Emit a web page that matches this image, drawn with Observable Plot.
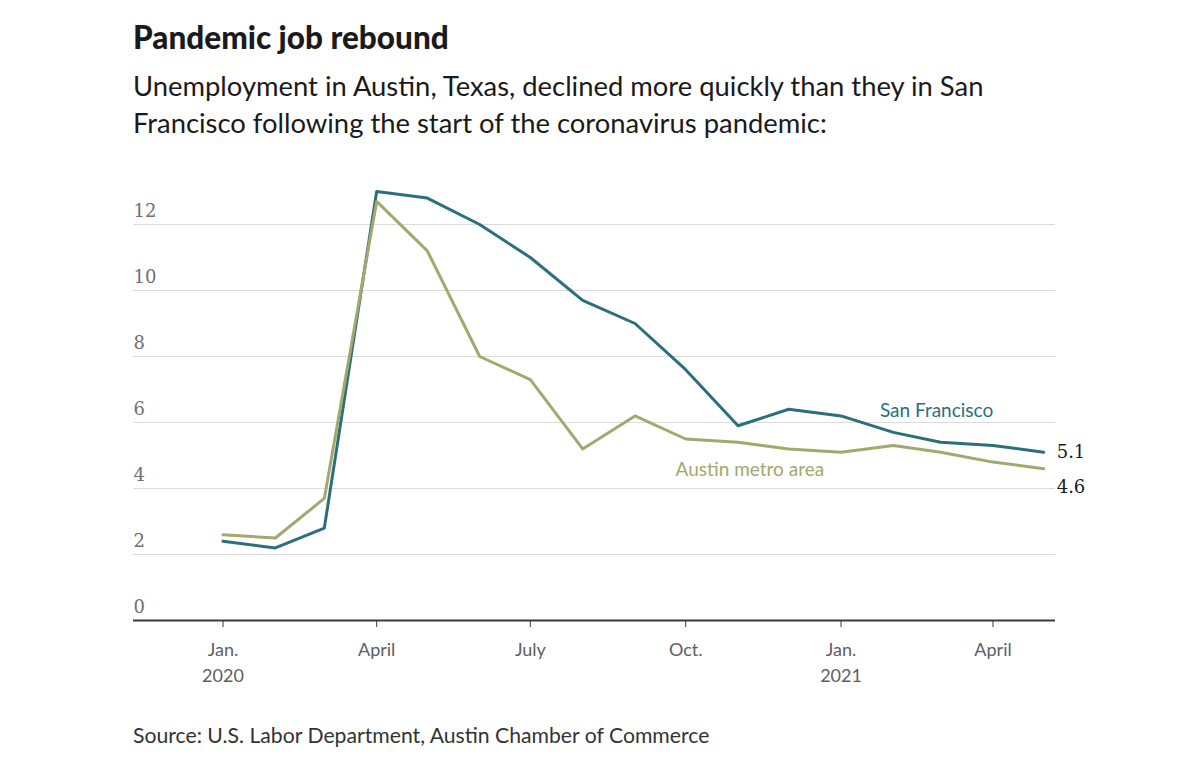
<!DOCTYPE html>
<html>
<head>
<meta charset="utf-8">
<script src="https://cdn.jsdelivr.net/npm/d3@7"></script>
<script src="https://cdn.jsdelivr.net/npm/@observablehq/plot@0.6"></script>
<style>
  body { margin: 0; background: #fff; width: 1200px; height: 773px; overflow: hidden; font-family: "Lato", "Noto Sans", sans-serif; }
  #title { position: absolute; left: 133px; top: 18px; font-size: 31.5px; font-weight: 900; color: #1a1a1a; font-family: "Lato", sans-serif; }
  #subtitle { position: absolute; left: 133px; top: 67px; font-size: 27.4px; line-height: 37px; color: #1a1a1a; font-family: "Lato", sans-serif; }
  #chart { position: absolute; left: 0; top: 160px; }
  #source { position: absolute; left: 133px; top: 722px; font-size: 21.2px; color: #333; font-family: "Lato", sans-serif; }
</style>
</head>
<body>
<div id="title">Pandemic job rebound</div>
<div id="subtitle">Unemployment in Austin, Texas, declined more quickly than they in San<br>Francisco following the start of the coronavirus pandemic:</div>
<div id="chart"></div>
<div id="source">Source: U.S. Labor Department, Austin Chamber of Commerce</div>
<script>
const months = ["2020-01","2020-02","2020-03","2020-04","2020-05","2020-06","2020-07","2020-08","2020-09","2020-10","2020-11","2020-12","2021-01","2021-02","2021-03","2021-04","2021-05"];
const sanFrancisco = [2.4,2.2,2.8,13.0,12.8,12.0,11.0,9.7,9.0,7.6,5.9,6.4,6.2,5.7,5.4,5.3,5.1];
const austin = [2.6,2.5,3.7,12.7,11.2,8.0,7.3,5.2,6.2,5.5,5.4,5.2,5.1,5.3,5.1,4.8,4.6];
const yTicks = [0,2,4,6,8,10,12];
const xTicks = ["2020-01","2020-04","2020-07","2020-10","2021-01","2021-04"];
const xTickLabels = ["Jan.\n2020","April","July","Oct.","Jan.\n2021","April"];
const seriesNames = ["San Francisco","Austin metro area"];
const seriesColors = ["#2b6f7c","#a4a86c"];
const seriesLabelPos = [{date:"2021-01-24", value:6.36},{date:"2020-09-25", value:4.55}];

const parse = d3.utcParse("%Y-%m");
const parseDay = d3.utcParse("%Y-%m-%d");
const data = [];
months.forEach((m,i)=>{
  data.push({date: parse(m), value: sanFrancisco[i], series: seriesNames[0]});
  data.push({date: parse(m), value: austin[i], series: seriesNames[1]});
});
const lastDate = parse(months[months.length-1]);
const lastSF = [{date: lastDate, value: sanFrancisco[sanFrancisco.length-1]}];
const lastAustin = [{date: lastDate, value: austin[austin.length-1]}];
const labels = seriesNames.map((s,i)=>({date: parseDay(seriesLabelPos[i].date), value: seriesLabelPos[i].value, series: s, color: seriesColors[i]}));
const tickDates = xTicks.map(parse);
const tickMap = new Map(tickDates.map((d,i)=>[+d, xTickLabels[i]]));

const chart = Plot.plot({
  width: 1200,
  height: 530,
  marginLeft: 133,
  marginRight: 145,
  marginTop: 31,
  marginBottom: 70,
  style: {fontFamily: "Lato, sans-serif", background: "transparent"},
  x: {type: "utc", domain: [parseDay("2019-11-09"), parseDay("2021-05-08")]},
  y: {domain: [0, 13], axis: null},
  color: {domain: seriesNames, range: seriesColors},
  marks: [
    Plot.gridY(yTicks, {stroke: "#dcdcdc", strokeOpacity: 1, strokeWidth: 1.2}),
    Plot.text(yTicks, {y: d => d, text: d => String(d), frameAnchor: "left", textAnchor: "start", dy: -13, fontSize: 18, fill: "#707070", fontFamily: "DejaVu Serif, serif"}),
    Plot.ruleY([0], {stroke: "#3a3a3a", strokeWidth: 2}),
    Plot.axisX({ticks: tickDates, tickFormat: d => tickMap.get(+d), tickSize: 7, tickPadding: 11, stroke: "#3a3a3a", fontSize: 18, fill: "#5e5e5e", lineHeight: 1.4, label: null}),
    Plot.lineY(data, {x: "date", y: "value", z: "series", stroke: "series", strokeWidth: 3}),
    Plot.text(labels, {x: "date", y: "value", text: "series", fill: "color", textAnchor: "start", fontSize: 19}),
    Plot.text(lastSF, {x: "date", y: "value", text: d => d.value.toFixed(1), dx: 13, textAnchor: "start", fontSize: 18, fill: "#1a1a1a", fontFamily: "DejaVu Serif, serif"}),
    Plot.text(lastAustin, {x: "date", y: "value", text: d => d.value.toFixed(1), dx: 13, dy: 19, textAnchor: "start", fontSize: 18, fill: "#1a1a1a", fontFamily: "DejaVu Serif, serif"})
  ]
});
document.getElementById("chart").appendChild(chart);
</script>
</body>
</html>
